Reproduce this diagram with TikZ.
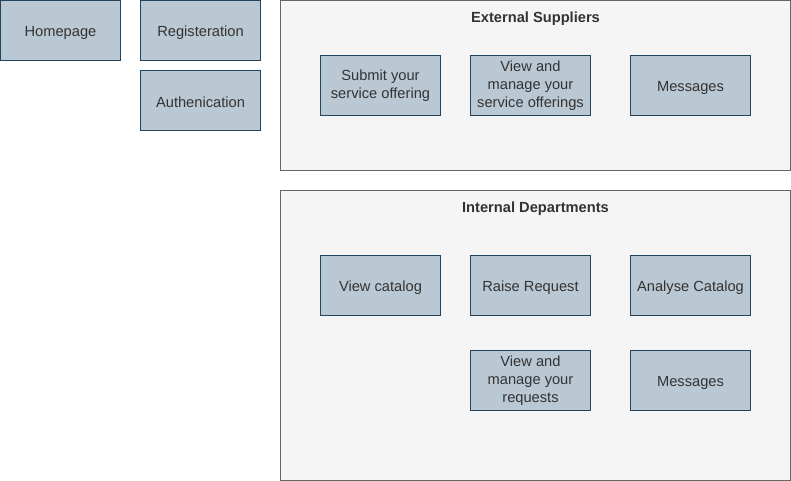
\documentclass[tikz,border=0pt]{standalone}
\usepackage{fontspec}
\setmainfont{Liberation Sans}
\usetikzlibrary{positioning}
\definecolor{boxfill}{HTML}{BAC8D3}
\definecolor{boxline}{HTML}{23445D}
\definecolor{grpfill}{HTML}{F5F5F5}
\definecolor{grpline}{HTML}{666666}
\definecolor{txt}{HTML}{333333}
\tikzset{
  box/.style={draw=boxline,fill=boxfill,line width=0.75pt,minimum width=90pt,minimum height=45pt,
    inner sep=0pt,align=center,text=txt,font=\fontsize{11}{13.5}\selectfont,
    execute at begin node={\rule{0pt}{11pt}}},
  group/.style={draw=grpline,fill=grpfill,line width=0.75pt,minimum width=382.5pt,inner sep=0pt},
  grouptitle/.style={text=txt,font=\fontsize{11}{13.5}\selectfont\bfseries}
}
\begin{document}
\begin{tikzpicture}[x=0.75pt,y=-0.75pt]
\useasboundingbox (0,0) rectangle (791,481);

\node[box] (home) at (60.5,30.5) {Homepage};
\node[box] (reg) at (200.5,30.5) {Registeration};
\node[box] (auth) at (200.5,100.5) {Authenication};

% external suppliers
\node[group,minimum height=127.5pt] (ext) at (535.5,85.5) {};
\node[grouptitle] (exttitle) at (535.5,18.5) {External Suppliers};
\node[box] (submit) at (380.5,85.5) {Submit your\\service offering};
\node[box] (offers) at (530.5,85.5) {View and\\manage your\\service offerings};
\node[box] (extmsg) at (690.5,85.5) {Messages};

% internal departments
\node[group,minimum height=217.5pt] (int) at (535.5,335.5) {};
\node[grouptitle] (inttitle) at (535.5,208.5) {Internal Departments};
\node[box] (catalog) at (380.5,285.5) {View catalog};
\node[box] (raise) at (530.5,285.5) {Raise Request};
\node[box] (analyse) at (690.5,285.5) {Analyse Catalog};
\node[box] (requests) at (530.5,380.5) {View and\\manage your\\requests};
\node[box] (intmsg) at (690.5,380.5) {Messages};
\end{tikzpicture}
\end{document}
